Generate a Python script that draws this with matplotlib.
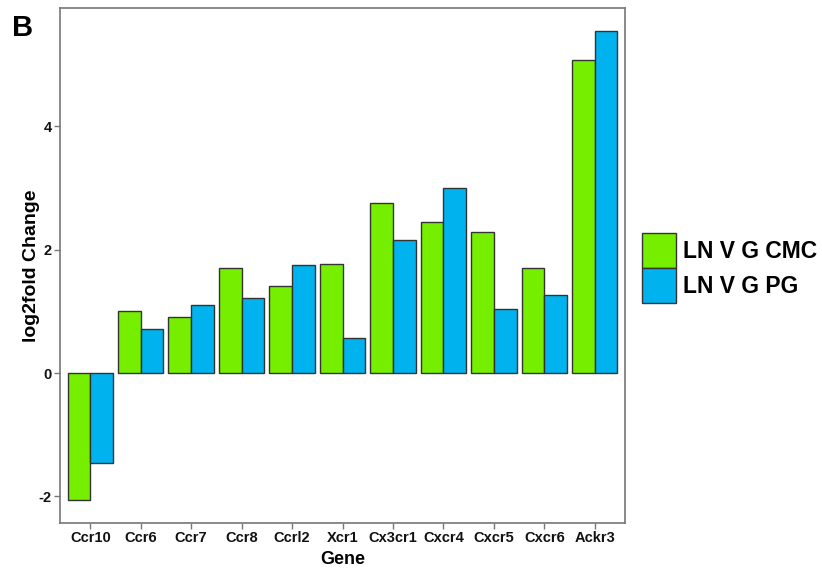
import numpy as np
import matplotlib
matplotlib.use("Agg")
import matplotlib.pyplot as plt
from matplotlib.patches import Patch

genes = ["Ccr10", "Ccr6", "Ccr7", "Ccr8", "Ccrl2", "Xcr1", "Cx3cr1",
         "Cxcr4", "Cxcr5", "Cxcr6", "Ackr3"]
cmc = [-2.06, 1.00, 0.91, 1.70, 1.41, 1.77, 2.76, 2.45, 2.29, 1.70, 5.07]
pg = [-1.46, 0.71, 1.10, 1.22, 1.75, 0.57, 2.16, 3.00, 1.04, 1.26, 5.54]
series_names = ["LN V G CMC", "LN V G PG"]
colors = ["#76EE00", "#00B2EE"]

plt.rcParams["font.family"] = ["Liberation Sans", "DejaVu Sans"]

fig = plt.figure(figsize=(8.22, 5.71), dpi=100)
ax = fig.add_axes([60 / 822, 1 - 523 / 571, 565 / 822, 515 / 571])

x = np.arange(len(genes))
w = 0.45
edge = "#333333"
ax.bar(x - w / 2, cmc, width=w, color=colors[0], edgecolor=edge, linewidth=1.0)
ax.bar(x + w / 2, pg, width=w, color=colors[1], edgecolor=edge, linewidth=1.0)

ax.set_xlim(-0.6, len(genes) - 0.4)
ax.set_ylim(-2.43, 5.92)
ax.set_yticks([-2, 0, 2, 4])
ax.set_yticklabels(["-2", "0", "2", "4"])
ax.set_xticks(x)
ax.set_xticklabels(genes)

for lab in ax.get_xticklabels() + ax.get_yticklabels():
    lab.set_fontweight("bold")
    lab.set_fontsize(10.5)
    lab.set_color("#111111")

ax.tick_params(axis="both", direction="out", length=4, width=1, color="#777777", pad=2)
for s in ax.spines.values():
    s.set_color("#777777")
    s.set_linewidth(1.2)

ax.set_xlabel("Gene", fontsize=13, fontweight="bold", labelpad=4)
ax.set_ylabel("log2fold Change", fontsize=14, fontweight="bold", labelpad=-1)

handles = [Patch(facecolor=c, edgecolor=edge, linewidth=1.0) for c in colors]
leg = fig.legend(handles, series_names, loc="center left",
                 bbox_to_anchor=(642 / 822, 1 - 268 / 571), frameon=False,
                 prop={"weight": "bold", "size": 16.5}, handlelength=1.5,
                 handleheight=1.97, handletextpad=0.3, labelspacing=0.0,
                 borderaxespad=0, borderpad=0)

fig.text(12 / 822, 1 - 28 / 571, "B", fontsize=21, fontweight="bold",
         va="center", ha="left")

fig.savefig("out.png", dpi=100)
